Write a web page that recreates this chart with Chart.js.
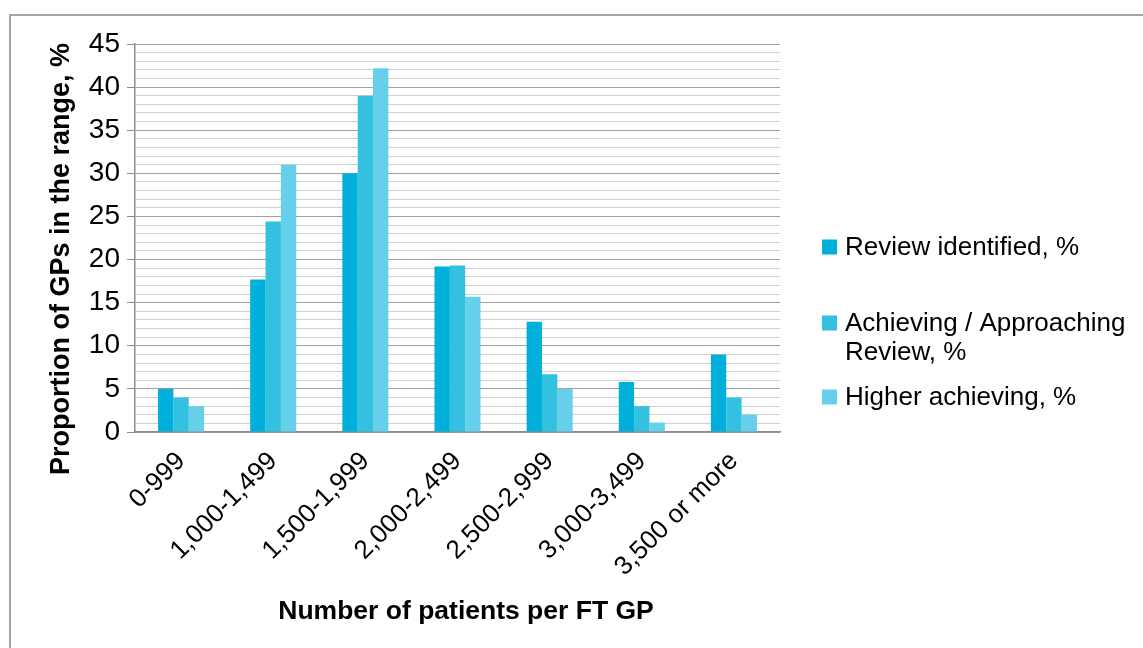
<!DOCTYPE html>
<html>
<head>
<meta charset="utf-8">
<script src="https://cdn.jsdelivr.net/npm/chart.js@4/dist/chart.umd.min.js"></script>
<style>
  html, body { margin: 0; padding: 0; background: #fff; }
  body { width: 1143px; height: 648px; position: relative; overflow: hidden; }
  #frame { position: absolute; left: 9px; top: 14px; width: 2000px; height: 2000px;
           border-left: 2px solid #A6A6A6; border-top: 2px solid #A6A6A6; }
  #wrap { position: absolute; left: 0; top: 0; width: 1143px; height: 648px; }
</style>
</head>
<body>
<div id="frame"></div>
<div id="wrap"><canvas id="c" width="1143" height="648"></canvas></div>
<script>
const categories = ['0-999', '1,000-1,499', '1,500-1,999', '2,000-2,499', '2,500-2,999', '3,000-3,499', '3,500 or more'];
const seriesNames = ['Review identified, %', 'Achieving / Approaching Review, %', 'Higher achieving, %'];
const reviewIdentified = [5, 17.7, 30, 19.2, 12.8, 5.8, 9];
const achievingApproaching = [4, 24.4, 39, 19.3, 6.7, 3, 4];
const higherAchieving = [3, 31, 42.2, 15.7, 5, 1.1, 2];
const seriesColors = ['#00B0DA', '#33C0E1', '#66D0EA'];
const yTickLabels = [0, 5, 10, 15, 20, 25, 30, 35, 40, 45];
const xTitle = 'Number of patients per FT GP';
const yTitle = 'Proportion of GPs in the range, %';

const FONT = '"Liberation Sans", Arial, sans-serif';

const customLegend = {
  id: 'customLegend',
  afterDraw(chart) {
    const ctx = chart.ctx;
    ctx.save();
    ctx.font = '26px ' + FONT;
    ctx.fillStyle = '#000';
    ctx.textBaseline = 'middle';
    ctx.textAlign = 'left';
    const firstLineY = [247, 323, 397];
    const markX = 822, textX = 845, maxW = 290, lineH = 29, box = 15;
    chart.data.datasets.forEach((ds, i) => {
      const words = ds.label.split(' ');
      const lines = [];
      let cur = '';
      words.forEach(w => {
        const t = cur ? cur + ' ' + w : w;
        if (ctx.measureText(t).width > maxW && cur) { lines.push(cur); cur = w; }
        else cur = t;
      });
      if (cur) lines.push(cur);
      const y0 = firstLineY[i];
      ctx.fillStyle = ds.backgroundColor;
      ctx.fillRect(markX, y0 - box / 2, box, box);
      ctx.fillStyle = '#000';
      lines.forEach((ln, k) => ctx.fillText(ln, textX, y0 + k * lineH + 1));
    });
    ctx.restore();
  }
};

const axisTitles = {
  id: 'axisTitles',
  afterDraw(chart) {
    const ctx = chart.ctx;
    ctx.save();
    ctx.fillStyle = '#000';
    ctx.textAlign = 'center';
    ctx.textBaseline = 'middle';
    ctx.font = 'bold 26.5px ' + FONT;
    ctx.fillText(xTitle, 466, 612);
    ctx.translate(62, 259);
    ctx.rotate(-Math.PI / 2);
    ctx.font = 'bold 27px ' + FONT;
    ctx.fillText(yTitle, 0, 0);
    ctx.restore();
  }
};

new Chart(document.getElementById('c'), {
  type: 'bar',
  data: {
    labels: categories,
    datasets: [
      { label: seriesNames[0], data: reviewIdentified, backgroundColor: seriesColors[0] },
      { label: seriesNames[1], data: achievingApproaching, backgroundColor: seriesColors[1] },
      { label: seriesNames[2], data: higherAchieving, backgroundColor: seriesColors[2] }
    ]
  },
  options: {
    responsive: false,
    animation: false,
    layout: { padding: { left: 30, top: 44, right: 363, bottom: 16 } },
    datasets: { bar: { categoryPercentage: 0.5, barPercentage: 1.0 } },
    plugins: { legend: { display: false }, tooltip: { enabled: false } },
    scales: {
      x: {
        grid: { display: false, drawTicks: false },
        border: { display: true, color: '#8C8C8C', width: 1.5 },
        ticks: {
          color: '#000', font: { family: FONT, size: 26 },
          minRotation: 45, maxRotation: 45, padding: 14, autoSkip: false
        },
        afterFit(scale) { scale.height = 200; }
      },
      y: {
        min: 0, max: 45,
        afterBuildTicks(scale) {
          const t = [];
          for (let v = 0; v <= 45; v++) t.push({ value: v });
          scale.ticks = t;
        },
        grid: {
          color: c => (c.tick && c.tick.value % 5 === 0) ? '#A0A0A0' : '#D0D0D0',
          lineWidth: 1,
          tickLength: 8,
          tickColor: c => (c.tick && c.tick.value % 5 === 0) ? '#8C8C8C' : 'rgba(0,0,0,0)'
        },
        border: { display: true, color: '#8C8C8C', width: 1.5 },
        ticks: {
          color: '#000', font: { family: FONT, size: 28 }, padding: 7, autoSkip: false,
          callback: v => yTickLabels.includes(v) ? String(v) : ''
        },
        afterFit(scale) { scale.width = 105; }
      }
    }
  },
  plugins: [customLegend, axisTitles]
});
</script>
</body>
</html>
